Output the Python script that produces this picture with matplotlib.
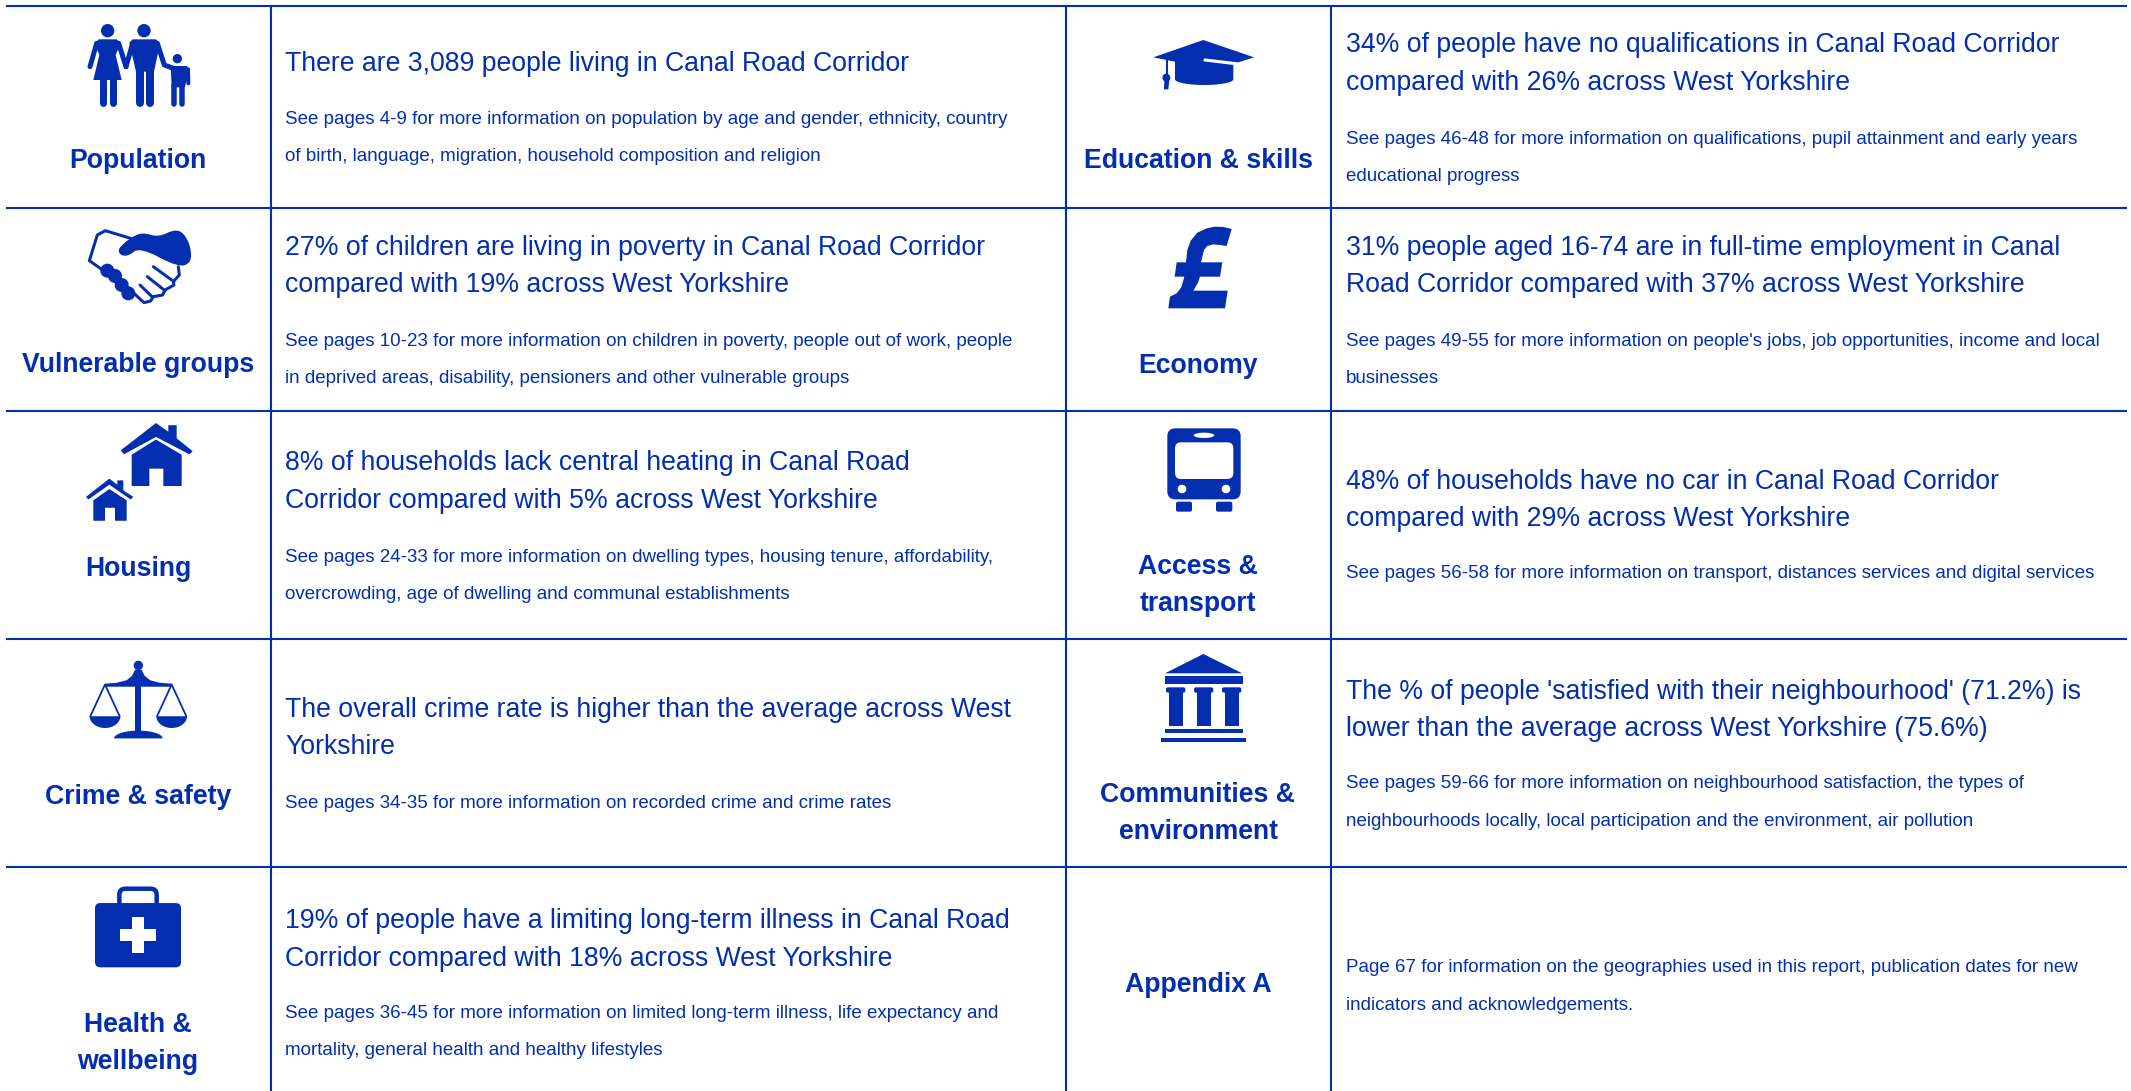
import matplotlib
matplotlib.use("Agg")
from matplotlib import pyplot as plt
from matplotlib.patches import Ellipse, FancyBboxPatch, Polygon
import numpy as np

W, H = 2131, 1091
BLUE = "#022EAF"
FONT = "Liberation Sans"

# table layout, pixels of the reference
row_lines = [5.5, 208, 410.5, 639, 867]
col_lines = [270.5, 1065.5, 1331]
label_x = [138, 1198]
text_x = [285, 1346]

left_labels = ["Population", "Vulnerable groups", "Housing", "Crime & safety", "Health &\nwellbeing"]
right_labels = ["Education & skills", "Economy", "Access &\ntransport", "Communities &\nenvironment", "Appendix A"]

left_heads = [
    "There are 3,089 people living in Canal Road Corridor",
    "27% of children are living in poverty in Canal Road Corridor\ncompared with 19% across West Yorkshire",
    "8% of households lack central heating in Canal Road\nCorridor compared with 5% across West Yorkshire",
    "The overall crime rate is higher than the average across West\nYorkshire",
    "19% of people have a limiting long-term illness in Canal Road\nCorridor compared with 18% across West Yorkshire",
]
right_heads = [
    "34% of people have no qualifications in Canal Road Corridor\ncompared with 26% across West Yorkshire",
    "31% people aged 16-74 are in full-time employment in Canal\nRoad Corridor compared with 37% across West Yorkshire",
    "48% of households have no car in Canal Road Corridor\ncompared with 29% across West Yorkshire",
    "The % of people 'satisfied with their neighbourhood' (71.2%) is\nlower than the average across West Yorkshire (75.6%)",
    "",
]
left_notes = [
    "See pages 4-9 for more information on population by age and gender, ethnicity, country\nof birth, language, migration, household composition and religion",
    "See pages 10-23 for more information on children in poverty, people out of work, people\nin deprived areas, disability, pensioners and other vulnerable groups",
    "See pages 24-33 for more information on dwelling types, housing tenure, affordability,\novercrowding, age of dwelling and communal establishments",
    "See pages 34-35 for more information on recorded crime and crime rates",
    "See pages 36-45 for more information on limited long-term illness, life expectancy and\nmortality, general health and healthy lifestyles",
]
right_notes = [
    "See pages 46-48 for more information on qualifications, pupil attainment and early years\neducational progress",
    "See pages 49-55 for more information on people's jobs, job opportunities, income and local\nbusinesses",
    "See pages 56-58 for more information on transport, distances services and digital services",
    "See pages 59-66 for more information on neighbourhood satisfaction, the types of\nneighbourhoods locally, local participation and the environment, air pollution",
    "Page 67 for information on the geographies used in this report, publication dates for new\nindicators and acknowledgements.",
]

# y of first text line in each row
left_label_y = [161, 365, 569, 797, 1025]
right_label_y = [161, 366, 567, 795, 985]
left_head_y = [64, 248, 463, 710, 921]
right_head_y = [45, 248, 482, 692, 0]
left_note_y = [119, 341, 557, 803, 1013]
right_note_y = [139, 341, 574, 784, 968]


def to_px(pts, ox, oy, sy=3.0):
    # zoomed crop coordinates -> reference pixels
    return [(ox + x / 3.0, oy + y / sy) for x, y in pts]


def chaikin(pts, n=2):
    # round the corners of a closed outline
    p = np.array(pts, dtype=float)
    for _ in range(n):
        q = np.roll(p, -1, axis=0)
        p = np.column_stack([0.75 * p + 0.25 * q, 0.25 * p + 0.75 * q]).reshape(-1, 2)
    return p


def poly(ax, pts, ox, oy, sy=3.0, color=BLUE):
    ax.add_patch(Polygon(to_px(pts, ox, oy, sy), closed=True, fc=color, ec="none"))


def line(ax, pts, ox, oy, width, sy=3.0, cap="round"):
    xy = to_px(pts, ox, oy, sy)
    ax.plot([p[0] for p in xy], [p[1] for p in xy], color=BLUE, lw=width * 0.72,
            solid_capstyle=cap, solid_joinstyle="round")


def circle(ax, x, y, r, ox, oy, color=BLUE, sy=3.0):
    ax.add_patch(Ellipse((ox + x / 3.0, oy + y / sy), 2 * r / 3.0, 2 * r / 3.0, fc=color, ec="none"))


def half_ellipse(cx, y0, rx, ry):
    t = np.linspace(0, np.pi, 25)
    return list(zip(cx + rx * np.cos(t), y0 + ry * np.sin(t)))


def rrect(ax, x0, y0, x1, y1, r, ox, oy, sy=3.0, fc=BLUE, ec="none", lw=0):
    ax.add_patch(FancyBboxPatch((ox + x0 / 3.0, oy + y0 / sy), (x1 - x0) / 3.0, (y1 - y0) / sy,
                                boxstyle="round,pad=0,rounding_size=%f" % (r / 3.0),
                                fc=fc, ec=ec, lw=lw))


def people_icon(ax):
    ox, oy = 0, 0
    circle(ax, 323, 92, 20, ox, oy)
    circle(ax, 432, 92, 20, ox, oy)
    circle(ax, 532, 176, 14, ox, oy)
    # woman
    poly(ax, [(284, 130), (296, 118), (350, 118), (362, 130), (347, 165), (365, 240), (280, 240),
              (298, 165)], ox, oy)
    line(ax, [(290, 130), (270, 200)], ox, oy, 5)
    line(ax, [(356, 130), (378, 200)], ox, oy, 5)
    line(ax, [(310, 240), (310, 310)], ox, oy, 7)
    line(ax, [(338, 240), (338, 310)], ox, oy, 7)
    # man
    poly(ax, [(388, 128), (398, 118), (468, 118), (480, 130), (462, 215), (408, 215)], ox, oy)
    line(ax, [(398, 130), (378, 200)], ox, oy, 5)
    line(ax, [(472, 130), (493, 195), (520, 205)], ox, oy, 5)
    line(ax, [(419, 210), (419, 308)], ox, oy, 8)
    line(ax, [(451, 210), (451, 308)], ox, oy, 8)
    # child
    poly(ax, [(512, 198), (560, 198), (570, 208), (554, 262), (515, 262)], ox, oy)
    line(ax, [(564, 208), (565, 250)], ox, oy, 4)
    line(ax, [(522, 255), (522, 312)], ox, oy, 5.5)
    line(ax, [(546, 255), (546, 312)], ox, oy, 5.5)


def hands_icon(ax):
    ox, oy = 0, 0
    line(ax, [(395, 716), (316, 692), (292, 705), (268, 782), (305, 808)], ox, oy, 3)
    poly(ax, chaikin([(400, 708), (430, 698), (475, 711), (525, 688), (552, 700), (572, 740), (574, 788),
                      (535, 802), (420, 742), (385, 768), (362, 766), (354, 750), (368, 733)]), ox, oy)
    for x, y in [(322, 812), (345, 828), (365, 855), (385, 880)]:
        circle(ax, x, y, 21, ox, oy)
    line(ax, [(535, 800), (538, 825), (520, 845), (522, 855), (495, 870), (488, 885),
              (460, 890), (452, 903), (432, 908), (402, 880)], ox, oy, 3)
    line(ax, [(460, 800), (522, 845)], ox, oy, 3)
    line(ax, [(442, 830), (495, 872)], ox, oy, 3)
    line(ax, [(420, 855), (458, 892)], ox, oy, 3)


def houses_icon(ax):
    ox, oy, sy = 0, 410, 2.302
    poly(ax, [(362, 93), (468, 30), (505, 50), (505, 35), (530, 35), (530, 65), (578, 95), (568, 102),
              (468, 62), (372, 102)], ox, oy, sy)
    poly(ax, [(395, 103), (468, 68), (545, 103), (545, 175), (490, 175), (490, 135), (448, 135),
              (448, 175), (395, 175)], ox, oy, sy)
    poly(ax, [(258, 200), (328, 158), (352, 172), (352, 162), (370, 162), (370, 185), (400, 200),
              (392, 206), (328, 172), (265, 206)], ox, oy, sy)
    poly(ax, [(280, 208), (328, 182), (380, 208), (380, 255), (345, 255), (345, 225), (315, 225),
              (315, 255), (280, 255)], ox, oy, sy)


def scales_icon(ax):
    ox, oy, sy = 0, 410, 2.302
    circle(ax, 415, 588, 14, ox, oy, sy=sy)
    poly(ax, [(315, 630), (350, 628), (380, 622), (396, 612), (405, 598), (425, 598), (434, 612), (450, 622),
              (480, 628), (515, 630), (515, 637), (315, 637)], ox, oy, sy)
    poly(ax, [(406, 630), (424, 630), (424, 745), (406, 745)], ox, oy, sy)
    poly(ax, half_ellipse(415, 756, 73, -18), ox, oy, sy)
    for c in (315, 515):
        line(ax, [(c - 44, 705), (c, 632), (c + 44, 705)], ox, oy, 1.8, sy)
        poly(ax, half_ellipse(c, 705, 46, 27), ox, oy, sy)


def kit_icon(ax):
    ox, oy, sy = 0, 410, 2.302
    rrect(ax, 358, 1102, 470, 1160, 18, ox, oy, sy, fc="none", ec=BLUE, lw=3.2)
    rrect(ax, 285, 1135, 543, 1283, 16, ox, oy, sy)
    poly(ax, [(395, 1168), (433, 1168), (433, 1195), (468, 1195), (468, 1223), (433, 1223), (433, 1250),
              (395, 1250), (395, 1223), (360, 1223), (360, 1195), (395, 1195)], ox, oy, sy, color="white")


def cap_icon(ax):
    ox, oy = 1060, 0
    bottom = half_ellipse(432.5, 238, 87.5, 17)
    poly(ax, [(280, 172), (430, 120), (582, 172), (535, 187), (432, 175), (430, 184), (520, 195)] + bottom
         + [(345, 185)], ox, oy)
    line(ax, [(320, 180), (320, 225)], ox, oy, 2, cap="butt")
    circle(ax, 319, 233, 12, ox, oy)
    poly(ax, [(313, 240), (328, 240), (325, 268), (312, 268)], ox, oy)


def pound_icon(ax):
    ox, oy = 1060, 0
    poly(ax, [(515, 687), (500, 738), (480, 735), (460, 733), (442, 738), (432, 750), (423, 787), (487, 787),
              (480, 830), (420, 830), (414, 848), (400, 872), (503, 872), (495, 925), (325, 925),
              (330, 890), (350, 880), (364, 862), (373, 830), (344, 830), (350, 787), (378, 787),
              (382, 750), (392, 722), (412, 698), (440, 685), (465, 680), (490, 681)], ox, oy)


def bus_icon(ax):
    ox, oy = 1060, 410
    rrect(ax, 322, 55, 542, 268, 24, ox, oy)
    rrect(ax, 345, 97, 520, 207, 18, ox, oy, fc="white")
    ax.add_patch(Ellipse((ox + 432 / 3, oy + 76 / 3), 62 / 3, 16 / 3, fc="white", ec="none"))
    circle(ax, 366, 237, 13, ox, oy, color="white")
    circle(ax, 498, 237, 13, ox, oy, color="white")
    rrect(ax, 348, 275, 396, 305, 6, ox, oy)
    rrect(ax, 468, 275, 517, 305, 6, ox, oy)


def bank_icon(ax):
    ox, oy = 1060, 410
    poly(ax, [(315, 790), (430, 732), (547, 790)], ox, oy)
    poly(ax, [(314, 798), (550, 798), (550, 822), (314, 822)], ox, oy)
    for x in (347, 431, 515):
        rrect(ax, x - 29, 832, x + 29, 848, 6, ox, oy)
        poly(ax, [(x - 21, 845), (x + 21, 845), (x + 21, 948), (x - 21, 948)], ox, oy)
    poly(ax, [(314, 956), (549, 956), (549, 969), (314, 969)], ox, oy)
    poly(ax, [(304, 984), (558, 984), (558, 996), (304, 996)], ox, oy)


def put(ax, x, y, s, size, spacing, weight="normal", ha="left"):
    # one Text per line, so the line gaps follow the reference
    for i, part in enumerate(s.split("\n")):
        ax.text(x, y + i * spacing, part, fontsize=size, color=BLUE, family=FONT, fontweight=weight,
                ha=ha, va="center")


def main():
    fig = plt.figure(figsize=(W / 100, H / 100), dpi=100)
    ax = fig.add_axes([0, 0, 1, 1])
    ax.set_xlim(0, W)
    ax.set_ylim(H, 0)
    ax.axis("off")

    for y in row_lines:
        ax.plot([6, 2127], [y, y], color=BLUE, lw=1.5, solid_capstyle="butt")
    for x in col_lines:
        ax.plot([x, x], [5.5, H], color=BLUE, lw=1.5, solid_capstyle="butt")

    for i in range(5):
        put(ax, label_x[0], left_label_y[i], left_labels[i], 19.2, 37, "bold", "center")
        put(ax, label_x[1], right_label_y[i], right_labels[i], 19.2, 37, "bold", "center")
        put(ax, text_x[0], left_head_y[i], left_heads[i], 19.17, 37.5)
        if right_heads[i]:
            put(ax, text_x[1], right_head_y[i], right_heads[i], 19.17, 37.5)
        put(ax, text_x[0], left_note_y[i], left_notes[i], 13.5, 37.5)
        put(ax, text_x[1], right_note_y[i], right_notes[i], 13.5, 37.5)

    people_icon(ax)
    hands_icon(ax)
    houses_icon(ax)
    scales_icon(ax)
    kit_icon(ax)
    cap_icon(ax)
    pound_icon(ax)
    bus_icon(ax)
    bank_icon(ax)

    fig.savefig("out.png", dpi=100, facecolor="white")


if __name__ == "__main__":
    main()
